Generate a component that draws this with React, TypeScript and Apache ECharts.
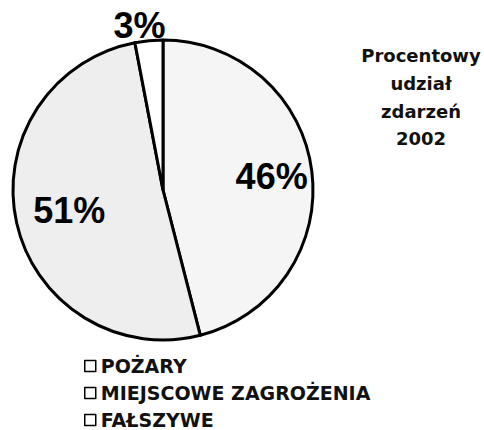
import React, { useEffect, useRef } from 'react';
import * as echarts from 'echarts';

const categories = ['POŻARY', 'MIEJSCOWE ZAGROŻENIA', 'FAŁSZYWE'];
const values = [46, 51, 3];
const sliceColors = ['#f5f5f5', '#eeeeee', '#ffffff'];
const titleLines = ['Procentowy', 'udział', 'zdarzeń', '2002'];
const labelRadiusFactors = [0.73, 0.64, 1.1];

const CX = 163;
const CY = 190;
const R = 150;

export default function App() {
  const ref = useRef<HTMLDivElement>(null);
  useEffect(() => {
    const chart = echarts.init(ref.current as HTMLDivElement, null, { renderer: 'svg' });
    const total = values.reduce((a, b) => a + b, 0);
    const mids: number[] = [];
    let acc = 0;
    values.forEach((v) => {
      const start = 90 - (360 * acc) / total;
      mids.push(start - (180 * v) / total);
      acc += v;
    });
    chart.setOption({
      animation: false,
      backgroundColor: '#ffffff',
      legend: {
        orient: 'vertical',
        left: 84,
        top: 356,
        height: 140,
        itemWidth: 11,
        itemHeight: 11,
        itemGap: 7,
        padding: 0,
        icon: 'rect',
        selectedMode: false,
        data: categories,
        itemStyle: { color: '#ffffff', borderColor: '#000000', borderWidth: 1.5 },
        textStyle: {
          fontFamily: 'DejaVu Sans',
          fontWeight: 'bold',
          fontSize: 19,
          color: '#111111',
          lineHeight: 20,
        },
      },
      graphic: [
        {
          type: 'text',
          x: 421,
          y: 42,
          style: {
            text: titleLines.join('\n'),
            align: 'center',
            verticalAlign: 'top',
            fontFamily: 'DejaVu Sans',
            fontWeight: 'bold',
            fontSize: 18,
            lineHeight: 27.7,
            fill: '#111111',
          },
        },
      ],
      series: [
        {
          type: 'pie',
          center: [CX, CY],
          radius: [0, R],
          startAngle: 90,
          clockwise: true,
          silent: true,
          itemStyle: { borderColor: '#000000', borderWidth: 3 },
          label: {
            show: true,
            position: 'inside',
            formatter: '{c}%',
            fontFamily: 'Liberation Sans',
            fontWeight: 'bold',
            fontSize: 36,
            color: '#000000',
          },
          labelLine: { show: false },
          labelLayout: (p: any) => {
            const i = p.dataIndex;
            const a = (mids[i] * Math.PI) / 180;
            const k = labelRadiusFactors[i];
            return { x: CX + Math.cos(a) * k * R - (i === 2 ? 8 : 0), y: CY - Math.sin(a) * k * R };
          },
          data: categories.map((name, i) => ({
            name,
            value: values[i],
            itemStyle: { color: sliceColors[i] },
          })),
        },
      ],
    });
    return () => chart.dispose();
  }, []);
  return (
    <div
      ref={ref}
      style={{ position: 'fixed', left: 0, top: 0, width: 484, height: 430 }}
    />
  );
}
